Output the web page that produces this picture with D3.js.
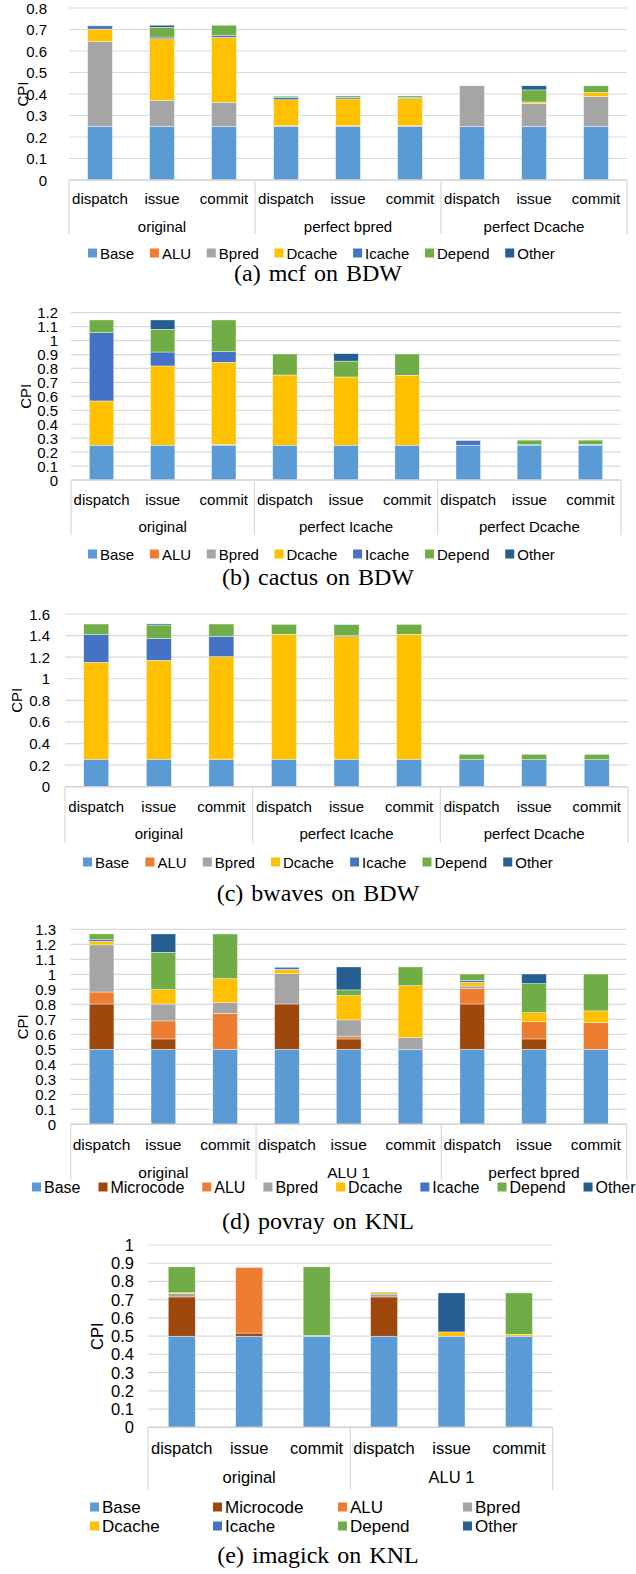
<!DOCTYPE html>
<html>
<head>
<meta charset="utf-8">
<script src="https://cdn.jsdelivr.net/npm/d3@7"></script>
<style>
  body { margin: 0; background: #fff; }
  svg { display: block; }
</style>
</head>
<body>
<div id="fig"></div>
<script>
// stages shown under every bar
const stages = ["dispatch", "issue", "commit"];

// stack series
const seriesBDW = ["Base", "ALU", "Bpred", "Dcache", "Icache", "Depend", "Other"];
const seriesKNL = ["Base", "Microcode", "ALU", "Bpred", "Dcache", "Icache", "Depend", "Other"];

const colors = {
  Base: "#5b9bd5", Microcode: "#9e480e", ALU: "#ed7d31", Bpred: "#a5a5a5",
  Dcache: "#ffc000", Icache: "#4472c4", Depend: "#70ad47", Other: "#255e91"
};

// (a) mcf on BDW  -- one row per bar, values in seriesBDW order
const mcfGroups = ["original", "perfect bpred", "perfect Dcache"];
const mcfTicks = [0, 0.1, 0.2, 0.3, 0.4, 0.5, 0.6, 0.7, 0.8];
const mcfValues = [
  [0.25, 0, 0.394, 0.058, 0.015, 0.003, 0],
  [0.25, 0, 0.12, 0.287, 0.008, 0.045, 0.01],
  [0.25, 0, 0.112, 0.301, 0.009, 0.048, 0],
  [0.25, 0, 0.002, 0.121, 0.01, 0.007, 0],
  [0.25, 0, 0.002, 0.125, 0.008, 0.006, 0],
  [0.25, 0, 0.002, 0.127, 0.005, 0.007, 0],
  [0.25, 0, 0.188, 0, 0, 0, 0],
  [0.25, 0, 0.106, 0.007, 0, 0.056, 0.019],
  [0.25, 0, 0.138, 0.019, 0, 0.031, 0]
];

// (b) cactus on BDW
const cactusGroups = ["original", "perfect Icache", "perfect Dcache"];
const cactusTicks = [0, 0.1, 0.2, 0.3, 0.4, 0.5, 0.6, 0.7, 0.8, 0.9, 1, 1.1, 1.2];
const cactusValues = [
  [0.25, 0, 0, 0.317, 0.49, 0.091, 0],
  [0.25, 0, 0, 0.568, 0.1, 0.163, 0.067],
  [0.25, 0, 0.005, 0.589, 0.076, 0.228, 0],
  [0.25, 0, 0, 0.503, 0, 0.151, 0],
  [0.25, 0, 0, 0.489, 0, 0.114, 0.053],
  [0.25, 0, 0, 0.501, 0, 0.153, 0],
  [0.25, 0, 0, 0, 0.033, 0.003, 0],
  [0.25, 0, 0, 0, 0.003, 0.033, 0],
  [0.25, 0, 0.006, 0, 0, 0.03, 0]
];

// (c) bwaves on BDW
const bwavesGroups = ["original", "perfect Icache", "perfect Dcache"];
const bwavesTicks = [0, 0.2, 0.4, 0.6, 0.8, 1, 1.2, 1.4, 1.6];
const bwavesValues = [
  [0.255, 0, 0, 0.897, 0.256, 0.099, 0],
  [0.255, 0, 0, 0.916, 0.204, 0.123, 0.01],
  [0.25, 0.006, 0, 0.949, 0.188, 0.114, 0],
  [0.255, 0, 0, 1.157, 0, 0.092, 0],
  [0.255, 0, 0, 1.135, 0.008, 0.102, 0.002],
  [0.255, 0, 0, 1.157, 0, 0.092, 0],
  [0.25, 0, 0, 0, 0, 0.05, 0],
  [0.25, 0, 0, 0, 0, 0.05, 0],
  [0.25, 0, 0, 0, 0, 0.05, 0]
];

// (d) povray on KNL -- values in seriesKNL order
const povrayGroups = ["original", "ALU 1", "perfect bpred"];
const povrayTicks = [0, 0.1, 0.2, 0.3, 0.4, 0.5, 0.6, 0.7, 0.8, 0.9, 1, 1.1, 1.2, 1.3];
const povrayValues = [
  [0.5, 0.302, 0.08, 0.314, 0.024, 0.011, 0.038, 0],
  [0.5, 0.069, 0.12, 0.113, 0.096, 0, 0.249, 0.122],
  [0.5, 0, 0.24, 0.071, 0.16, 0, 0.298, 0],
  [0.5, 0.302, 0, 0.202, 0.029, 0.014, 0, 0],
  [0.5, 0.069, 0.015, 0.112, 0.162, 0, 0.038, 0.153],
  [0.5, 0, 0, 0.078, 0.346, 0, 0.125, 0],
  [0.5, 0.302, 0.102, 0.018, 0.025, 0.013, 0.042, 0],
  [0.5, 0.069, 0.115, 0, 0.06, 0, 0.194, 0.064],
  [0.5, 0, 0.178, 0, 0.078, 0, 0.246, 0]
];

// (e) imagick on KNL
const imagickGroups = ["original", "ALU 1"];
const imagickTicks = [0, 0.1, 0.2, 0.3, 0.4, 0.5, 0.6, 0.7, 0.8, 0.9, 1];
const imagickValues = [
  [0.5, 0.215, 0, 0.018, 0.005, 0, 0.142, 0],
  [0.5, 0.017, 0.36, 0.003, 0, 0, 0, 0],
  [0.5, 0, 0, 0, 0.004, 0, 0.376, 0],
  [0.5, 0.215, 0, 0.016, 0.007, 0, 0.004, 0],
  [0.5, 0, 0, 0, 0.023, 0, 0, 0.214],
  [0.5, 0, 0, 0, 0.01, 0, 0.227, 0]
];

const W = 636, H = 1574;
const sans = "'Liberation Sans', Arial, sans-serif";
const serif = "'Liberation Serif', 'Times New Roman', serif";

var svg = d3.select("#fig").append("svg")
  .attr("width", W).attr("height", H);

function drawChart(c) {
  var g = svg.append("g");
  var bars = [];
  c.groups.forEach(function(gr) { stages.forEach(function(s) { bars.push(gr + "|" + s); }); });

  var x = d3.scaleBand().domain(bars).range([c.x0, c.x1])
    .paddingInner(0.6).paddingOuter(0.3);
  var y = d3.scaleLinear().domain([0, d3.max(c.ticks)]).range([c.yBase, c.yTop]);

  // gridlines
  g.selectAll(".grid").data(c.ticks.slice(1)).join("line")
    .attr("x1", c.x0).attr("x2", c.x1)
    .attr("y1", function(d) { return y(d); }).attr("y2", function(d) { return y(d); })
    .attr("stroke", "#d9d9d9").attr("stroke-width", 1.2);

  // tick labels
  g.selectAll(".tick").data(c.ticks).join("text")
    .attr("x", c.tickRight).attr("y", function(d) { return y(d); })
    .attr("text-anchor", "end").attr("dominant-baseline", "central")
    .attr("font-family", sans).attr("font-size", c.font)
    .text(function(d) { return d3.format("~g")(d); });

  // stacked bars
  var rows = c.values.map(function(v, i) {
    var o = { key: bars[i] };
    c.series.forEach(function(s, j) { o[s] = v[j]; });
    return o;
  });
  var stacked = d3.stack().keys(c.series)(rows);
  g.selectAll(".layer").data(stacked).join("g")
    .attr("fill", function(d) { return colors[d.key]; })
    .selectAll("rect").data(function(d) { return d.filter(function(p) { return p[1] - p[0] > 0; }); })
    .join("rect")
      .attr("x", function(d) { return x(d.data.key); })
      .attr("width", x.bandwidth())
      .attr("y", function(d) { return y(d[1]); })
      .attr("height", function(d) { return y(d[0]) - y(d[1]); })
      .attr("stroke", "#fff").attr("stroke-width", 0.4);

  // category axis box
  g.append("line")
    .attr("x1", c.x0).attr("x2", c.x1).attr("y1", c.yBase).attr("y2", c.yBase)
    .attr("stroke", "#d0d0d0").attr("stroke-width", 1.5);
  var groupW = (c.x1 - c.x0) / c.groups.length;
  g.selectAll(".sep").data(d3.range(c.groups.length + 1)).join("line")
    .attr("x1", function(i) { return c.x0 + i * groupW; })
    .attr("x2", function(i) { return c.x0 + i * groupW; })
    .attr("y1", c.yBase).attr("y2", c.sepBottom)
    .attr("stroke", "#d9d9d9").attr("stroke-width", 1.2);

  g.selectAll(".cat").data(bars).join("text")
    .attr("x", function(d) { return x(d) + x.bandwidth() / 2; })
    .attr("y", c.catY)
    .attr("text-anchor", "middle").attr("dominant-baseline", "central")
    .attr("font-family", sans).attr("font-size", c.catFont || c.font)
    .text(function(d) { return d.split("|")[1]; });

  g.selectAll(".grp").data(c.groups).join("text")
    .attr("x", function(d, i) { return c.x0 + (i + 0.5) * groupW; })
    .attr("y", c.groupY)
    .attr("text-anchor", "middle").attr("dominant-baseline", "central")
    .attr("font-family", sans).attr("font-size", c.catFont || c.font)
    .text(function(d) { return d; });

  // y axis title
  g.append("text")
    .attr("transform", "translate(" + c.cpiX + "," + ((c.yBase + c.yTop) / 2) + ") rotate(-90)")
    .attr("text-anchor", "middle").attr("dominant-baseline", "central")
    .attr("font-family", sans).attr("font-size", c.font)
    .text("CPI");

  // legend
  var lg = g.append("g");
  var items = lg.selectAll(".leg").data(c.series).join("g");
  items.append("rect").attr("width", 9).attr("height", 9).attr("y", -4.5)
    .attr("fill", function(d) { return colors[d]; });
  items.append("text").attr("x", 12).attr("dominant-baseline", "central")
    .attr("font-family", sans).attr("font-size", c.legFont)
    .text(function(d) { return d; });
  if (c.legCols) {
    items.attr("transform", function(d, i) {
      return "translate(" + c.legCols[i % c.legCols.length] + "," + c.legRows[Math.floor(i / c.legCols.length)] + ")";
    });
  } else {
    var cx = c.legX;
    items.each(function() {
      d3.select(this).attr("transform", "translate(" + cx + "," + c.legY + ")");
      cx += 12 + d3.select(this).select("text").node().getComputedTextLength() + c.legGap;
    });
  }

  // caption
  svg.append("text")
    .attr("x", c.capX).attr("y", c.capY)
    .attr("text-anchor", "middle").attr("dominant-baseline", "central")
    .attr("font-family", serif).attr("font-size", 24).attr("word-spacing", 2)
    .text(c.caption);
}

drawChart({ groups: mcfGroups, series: seriesBDW, values: mcfValues, ticks: mcfTicks,
  x0: 69, x1: 627, yTop: 8, yBase: 180, tickRight: 47, cpiX: 22, font: 15,
  catY: 198, groupY: 226, sepBottom: 234, legX: 88, legY: 253, legGap: 15.7, legFont: 15,
  caption: "(a) mcf on BDW", capX: 318, capY: 273 });

drawChart({ groups: cactusGroups, series: seriesBDW, values: cactusValues, ticks: cactusTicks,
  x0: 71, x1: 621, yTop: 312.7, yBase: 480, tickRight: 58, cpiX: 25, font: 15,
  catY: 499, groupY: 526, sepBottom: 535, legX: 88, legY: 554, legGap: 15.7, legFont: 15,
  caption: "(b) cactus on BDW", capX: 318, capY: 577 });

drawChart({ groups: bwavesGroups, series: seriesBDW, values: bwavesValues, ticks: bwavesTicks,
  x0: 65, x1: 628, yTop: 614, yBase: 786.7, tickRight: 50, cpiX: 16, font: 15,
  catY: 806, groupY: 833, sepBottom: 843, legX: 83, legY: 862, legGap: 16.2, legFont: 15,
  caption: "(c) bwaves on BDW", capX: 318, capY: 893 });

drawChart({ groups: povrayGroups, series: seriesKNL, values: povrayValues, ticks: povrayTicks,
  x0: 70.7, x1: 626.7, yTop: 929.3, yBase: 1124.3, tickRight: 56, cpiX: 22, font: 15,
  catFont: 15.5, catY: 1144, groupY: 1172, sepBottom: 1180, legX: 32, legY: 1187, legGap: 18, legFont: 16,
  caption: "(d) povray on KNL", capX: 318, capY: 1221 });

drawChart({ groups: imagickGroups, series: seriesKNL, values: imagickValues, ticks: imagickTicks,
  x0: 148, x1: 552.7, yTop: 1245, yBase: 1427.3, tickRight: 134, cpiX: 97, font: 16.5,
  catY: 1448, groupY: 1477, sepBottom: 1490, legFont: 17,
  legCols: [90, 213, 338, 463], legRows: [1507, 1526],
  caption: "(e) imagick on KNL", capX: 318, capY: 1555 });
</script>
</body>
</html>
